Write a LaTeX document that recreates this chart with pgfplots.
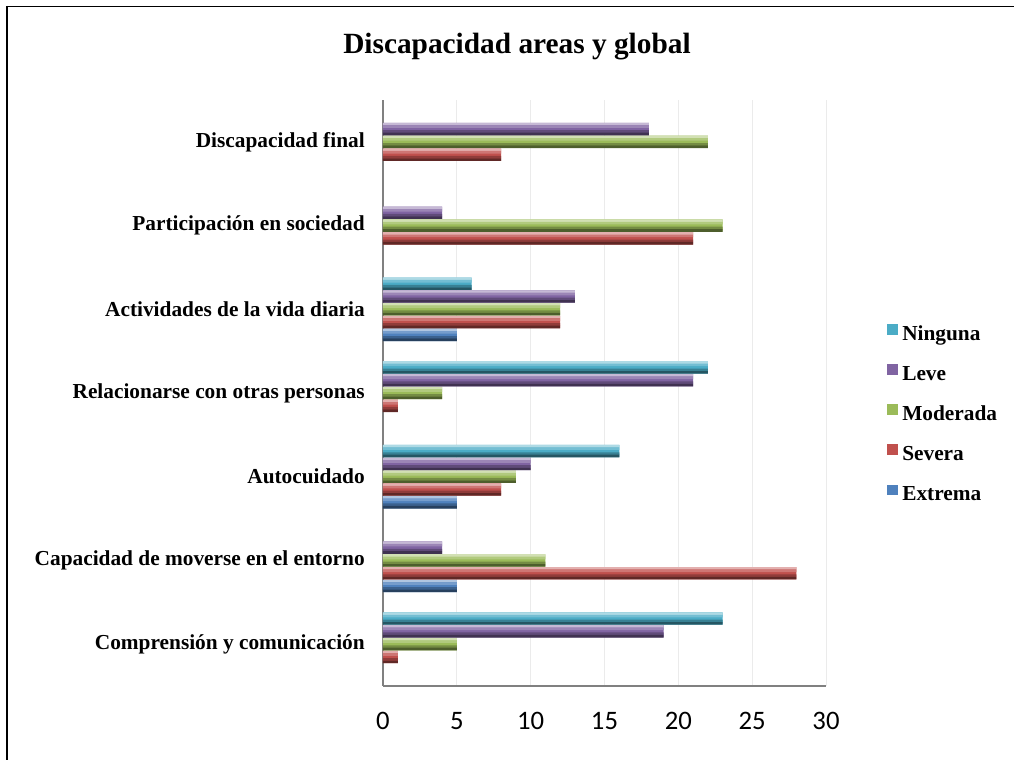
\documentclass[border=0pt]{standalone}
\usepackage{pgfplots}
\pgfplotsset{compat=1.18}
\usepackage{pgfplotstable}
\usepackage{fontspec}
\setmainfont{Liberation Serif}
\newfontfamily\calibri{Carlito}

\definecolor{cExtrema}{HTML}{4F81BD}
\definecolor{cSevera}{HTML}{C0504D}
\definecolor{cModerada}{HTML}{9BBB59}
\definecolor{cLeve}{HTML}{8064A2}
\definecolor{cNinguna}{HTML}{4BACC6}

% rows: 0 Comprension ... 6 Discapacidad final
\pgfplotstableread{
idx Extrema Severa Moderada Leve Ninguna
0   0       1      5        19   23
1   5       28     11       4    0
2   5       8      9        10   16
3   0       1      4        21   22
4   5       12     12       13   6
5   0       21     23       4    0
6   0       8      22       18   0
}\datos

% one series: a flat bar plus four thin bands that give it a rounded look
% #1 column, #2 colour, #3..#7 shifts (pt): centre, +3.68, +1.84, -1.84, -3.68
\newcommand\serie[7]{%
  \addplot[xbar, bar width=9.2pt, bar shift=#3pt, fill=#2, draw=none,
    legend image code/.code={\fill[#2] (0pt,0pt) rectangle (8.25pt,8pt);}]
    table[x=#1, y=idx] {\datos};
  \addplot[forget plot, xbar, bar width=1.95pt, bar shift=#4pt, fill=#2!45!white, draw=none]
    table[x=#1, y=idx] {\datos};
  \addplot[forget plot, xbar, bar width=1.95pt, bar shift=#5pt, fill=#2!78!white, draw=none]
    table[x=#1, y=idx] {\datos};
  \addplot[forget plot, xbar, bar width=1.95pt, bar shift=#6pt, fill=#2!75!black, draw=none]
    table[x=#1, y=idx] {\datos};
  \addplot[forget plot, xbar, bar width=1.95pt, bar shift=#7pt, fill=#2!50!black, draw=none]
    table[x=#1, y=idx] {\datos};
}

\begin{document}
\begin{tikzpicture}[x=0.75pt,y=0.75pt]
\useasboundingbox (0,0) rectangle (1014,760);
\draw[line width=1pt] (6,753.5) -- (1014,753.5);
\draw[line width=1.6pt] (7,754) -- (7,0);
\node[font=\bfseries\fontsize{22}{26}\selectfont] at (517,713) {Discapacidad areas y global};

\begin{axis}[
  at={(287.25pt,55.5pt)}, anchor=south west,
  scale only axis, width=332.25pt, height=439.5pt,
  xmin=0, xmax=30, ymin=-0.5, ymax=6.5,
  xtick={0,5,...,30}, ytick={0,...,6},
  yticklabels={Comprensión y comunicación, Capacidad de moverse en el entorno,
    Autocuidado, Relacionarse con otras personas, Actividades de la vida diaria,
    Participación en sociedad, Discapacidad final},
  major tick length=0pt,
  xmajorgrids, grid style={draw=black!8, line width=0.6pt},
  axis x line=bottom, axis y line=left,
  axis line style={-, draw=black!50, line width=1.6pt},
  /pgf/number format/assume math mode=true,
  xticklabel style={font=\calibri\fontsize{20}{24}\selectfont, inner sep=0pt, anchor=north, yshift=-19.5pt},
  yticklabel style={font=\bfseries\fontsize{16}{19}\selectfont, inner sep=0pt, anchor=east, xshift=-13.5pt},
  restrict x to domain=0.001:100,
  legend style={at={(1.1377,0.463)}, anchor=west, draw=none, fill=none, inner sep=0pt,
    font=\bfseries\fontsize{16}{19}\selectfont, row sep=14.6pt, column sep=3pt,
    nodes={inner sep=0pt, text height=11.5pt, text depth=3.5pt}},
  legend cell align=left, reverse legend,
]
\serie{Extrema}{cExtrema}{-19.2}{-15.52}{-17.36}{-21.04}{-22.88}
\serie{Severa}{cSevera}{-9.6}{-5.92}{-7.76}{-11.44}{-13.28}
\serie{Moderada}{cModerada}{0}{3.68}{1.84}{-1.84}{-3.68}
\serie{Leve}{cLeve}{9.6}{13.28}{11.44}{7.76}{5.92}
\serie{Ninguna}{cNinguna}{19.2}{22.88}{21.04}{17.36}{15.52}
\legend{Extrema, Severa, Moderada, Leve, Ninguna}
\end{axis}
\end{tikzpicture}
\end{document}
